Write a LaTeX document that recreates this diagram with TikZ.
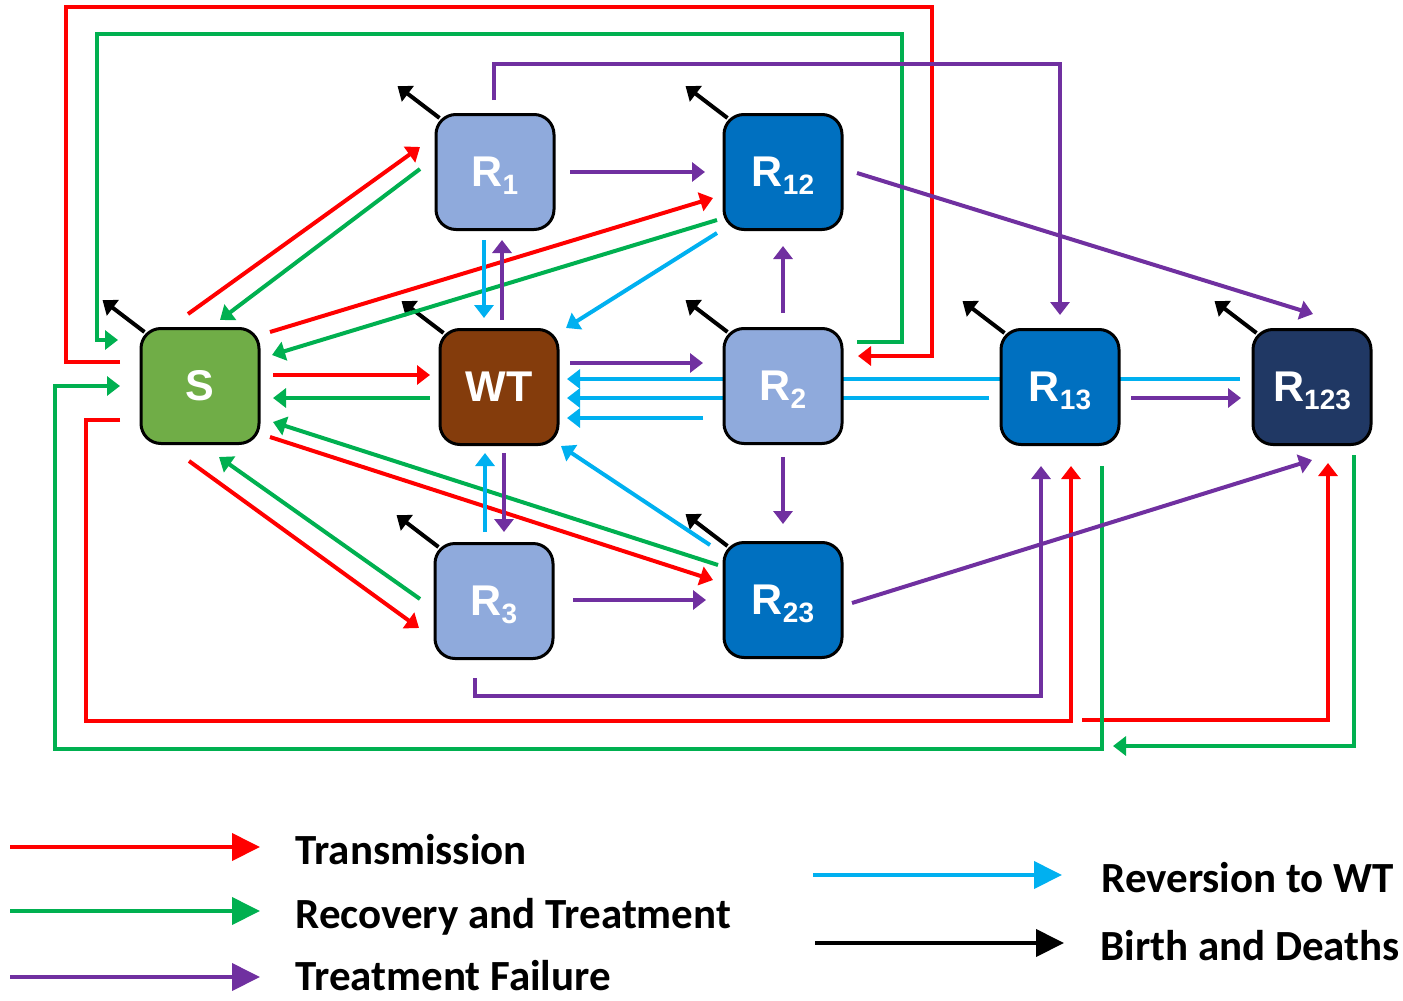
\documentclass[tikz,border=0pt]{standalone}
\usepackage{fontspec}
\usepackage{tikz}
\usetikzlibrary{arrows.meta,backgrounds}
\newfontfamily\compfont{Liberation Sans}
\newfontfamily\legfont{Carlito}
\definecolor{sgreen}{HTML}{70AD47}
\definecolor{wtbrown}{HTML}{843C0C}
\definecolor{rlight}{HTML}{8FAADC}
\definecolor{rmid}{HTML}{0070C0}
\definecolor{rdark}{HTML}{203864}
\definecolor{transred}{HTML}{FF0000}
\definecolor{recovgreen}{HTML}{00B050}
\definecolor{failpurple}{HTML}{7030A0}
\definecolor{revblue}{HTML}{00B0F0}
\newcommand{\Rsub}[1]{R\smash{\raisebox{-4pt}{\fontsize{14pt}{14pt}\selectfont #1}}}

\begin{document}
\begin{tikzpicture}[x=0.5pt, y=-0.5pt,
  comp/.style={draw=black, line width=1.5pt, rounded corners=10pt, minimum width=59pt, minimum height=57.5pt, inner sep=0pt, text=white, font=\compfont\bfseries\fontsize{21.5pt}{21.5pt}\selectfont},
  flow/.style={line width=2pt, -{Triangle[length=6.5pt,width=9.5pt]}},
  trans/.style={flow, draw=transred},
  recov/.style={flow, draw=recovgreen},
  fail/.style={flow, draw=failpurple},
  revert/.style={flow, draw=revblue},
  death/.style={flow, draw=black},
  leg/.style={line width=2pt, -{Triangle[length=14pt,width=13.5pt]}},
  legtext/.style={anchor=base west, inner sep=0pt, font=\legfont\bfseries\fontsize{21.5pt}{21.5pt}\selectfont}]
\useasboundingbox (0,0) rectangle (1403,1001);

% compartments
\node[comp, fill=sgreen] (S) at (200,386) {S};
\node[comp, fill=rlight] (R1) at (495,172) {\Rsub{1}};
\node[comp, fill=wtbrown] (WT) at (499,387) {WT};
\node[comp, fill=rmid] (R12) at (783,172) {\Rsub{12}};
\node[comp, fill=rlight] (R2) at (783,386) {\Rsub{2}};
\node[comp, fill=rlight] (R3) at (494,601) {\Rsub{3}};
\node[comp, fill=rmid] (R23) at (783,600) {\Rsub{23}};
\node[comp, fill=rmid] (R13) at (1060,387) {\Rsub{13}};
\node[comp, fill=rdark] (R123) at (1312,387) {\Rsub{123}};

\begin{scope}[on background layer]
% birth and deaths
\draw[death] ([shift={(5,5)}]S.north west) -- ++(-42,-32);
\draw[death] ([shift={(5,5)}]R1.north west) -- ++(-42,-32);
\draw[death] ([shift={(5,5)}]WT.north west) -- ++(-42,-32);
\draw[death] ([shift={(5,5)}]R12.north west) -- ++(-42,-32);
\draw[death] ([shift={(5,5)}]R2.north west) -- ++(-42,-32);
\draw[death] ([shift={(5,5)}]R3.north west) -- ++(-42,-32);
\draw[death] ([shift={(5,5)}]R23.north west) -- ++(-42,-32);
\draw[death] ([shift={(5,5)}]R13.north west) -- ++(-42,-32);
\draw[death] ([shift={(5,5)}]R123.north west) -- ++(-42,-32);

% long loops
\draw[trans] ([shift={(-80,-24)}]S.center) -| (66,7) -| (932,356) -- ([shift={(75,-30)}]R2.center);
\draw[recov] ([shift={(74,-44)}]R2.center) -| (902,34) -| (97,340) -- ([shift={(-82,-46)}]S.center);
\draw[fail] ([shift={(-1,-72)}]R1.center) -- ++(0,-36) -| ([shift={(0,-72)}]R13.center);
\draw[trans] ([shift={(-80,34)}]S.center) -| (86,721) -| ([shift={(11,79)}]R13.center);
\coordinate (redfork) at (1082,720);
\draw[trans] (redfork) -| ([shift={(16,76)}]R123.center);
\draw[recov] ([shift={(42,79)}]R13.center) |- (55,749) |- ([shift={(-80,0)}]S.center);
\coordinate (greenjoin) at (1113,746);
\draw[recov] ([shift={(42,68)}]R123.center) |- (greenjoin);
\draw[fail] ([shift={(-19,77)}]R3.center) -- ++(0,18) -| ([shift={(-19,79)}]R13.center);

% around S
\draw[trans] ([shift={(-12,-72)}]S.center) -- ([shift={(-75,-25)}]R1.center);
\draw[recov] ([shift={(-75,-3)}]R1.center) -- ([shift={(20,-66)}]S.center);
\draw[trans] ([shift={(70,-54)}]S.center) -- ([shift={(-70,26)}]R12.center);
\draw[recov] ([shift={(-66,48)}]R12.center) -- ([shift={(72,-31)}]S.center);
\draw[trans] ([shift={(73,-11)}]S.center) -- ([shift={(-69,-12)}]WT.center);
\draw[recov] ([shift={(-69,11)}]WT.center) -- ([shift={(73,12)}]S.center);
\draw[recov] ([shift={(-65,-35)}]R23.center) -- ([shift={(73,36)}]S.center);
\draw[trans] ([shift={(70,51)}]S.center) -- ([shift={(-70,-20)}]R23.center);
\draw[trans] ([shift={(-11,75)}]S.center) -- ([shift={(-75,27)}]R3.center);
\draw[recov] ([shift={(-74,-2)}]R3.center) -- ([shift={(19,71)}]S.center);

% around WT
\draw[revert] ([shift={(-11,68)}]R1.center) -- ([shift={(-15,-69)}]WT.center);
\draw[fail] ([shift={(3,-67)}]WT.center) -- ([shift={(7,68)}]R1.center);
\draw[revert] ([shift={(-9,-69)}]R3.center) -- ([shift={(-14,66)}]WT.center);
\draw[fail] ([shift={(5,66)}]WT.center) -- ([shift={(10,-69)}]R3.center);
\draw[revert] ([shift={(-66,61)}]R12.center) -- ([shift={(67,-59)}]WT.center);
\draw[fail] ([shift={(71,-24)}]WT.center) -- ([shift={(-80,-23)}]R2.center);
\draw[revert] ([shift={(-72,-8)}]R123.center) -- ([shift={(68,-8)}]WT.center);
\draw[revert] ([shift={(-71,11)}]R13.center) -- ([shift={(68,11)}]WT.center);
\draw[revert] ([shift={(-80,32)}]R2.center) -- ([shift={(68,31)}]WT.center);
\draw[revert] ([shift={(-73,-55)}]R23.center) -- ([shift={(62,59)}]WT.center);

% resistant strains
\draw[fail] ([shift={(75,0)}]R1.center) -- ([shift={(-78,0)}]R12.center);
\draw[fail] ([shift={(0,-73)}]R2.center) -- ([shift={(0,74)}]R12.center);
\draw[fail] ([shift={(0,71)}]R2.center) -- ([shift={(0,-76)}]R23.center);
\draw[fail] ([shift={(79,-1)}]R3.center) -- ([shift={(-77,0)}]R23.center);
\draw[fail] ([shift={(74,1)}]R12.center) -- ([shift={(1,-73)}]R123.center);
\draw[fail] ([shift={(69,3)}]R23.center) -- ([shift={(0,73)}]R123.center);
\draw[fail] ([shift={(71,11)}]R13.center) -- ([shift={(-71,11)}]R123.center);
\end{scope}

% legend
\node[legtext] (legtrans) at (295,864) {Transmission};
\node[legtext] (legrecov) at (295,928) {Recovery and Treatment};
\node[legtext] (legfail) at (295,990) {Treatment Failure};
\node[legtext] (legrevert) at (1101,892) {Reversion to WT};
\node[legtext] (legdeath) at (1100,960) {Birth and Deaths};
\draw[trans, leg] ([shift={(-285,-17)}]legtrans.base west) -- ([shift={(-35,-17)}]legtrans.base west);
\draw[recov, leg] ([shift={(-285,-17)}]legrecov.base west) -- ([shift={(-35,-17)}]legrecov.base west);
\draw[fail, leg] ([shift={(-285,-13)}]legfail.base west) -- ([shift={(-35,-13)}]legfail.base west);
\draw[revert, leg] ([shift={(-288,-17)}]legrevert.base west) -- ([shift={(-39,-17)}]legrevert.base west);
\draw[death, leg] ([shift={(-285,-17)}]legdeath.base west) -- ([shift={(-36,-17)}]legdeath.base west);
\end{tikzpicture}
\end{document}
